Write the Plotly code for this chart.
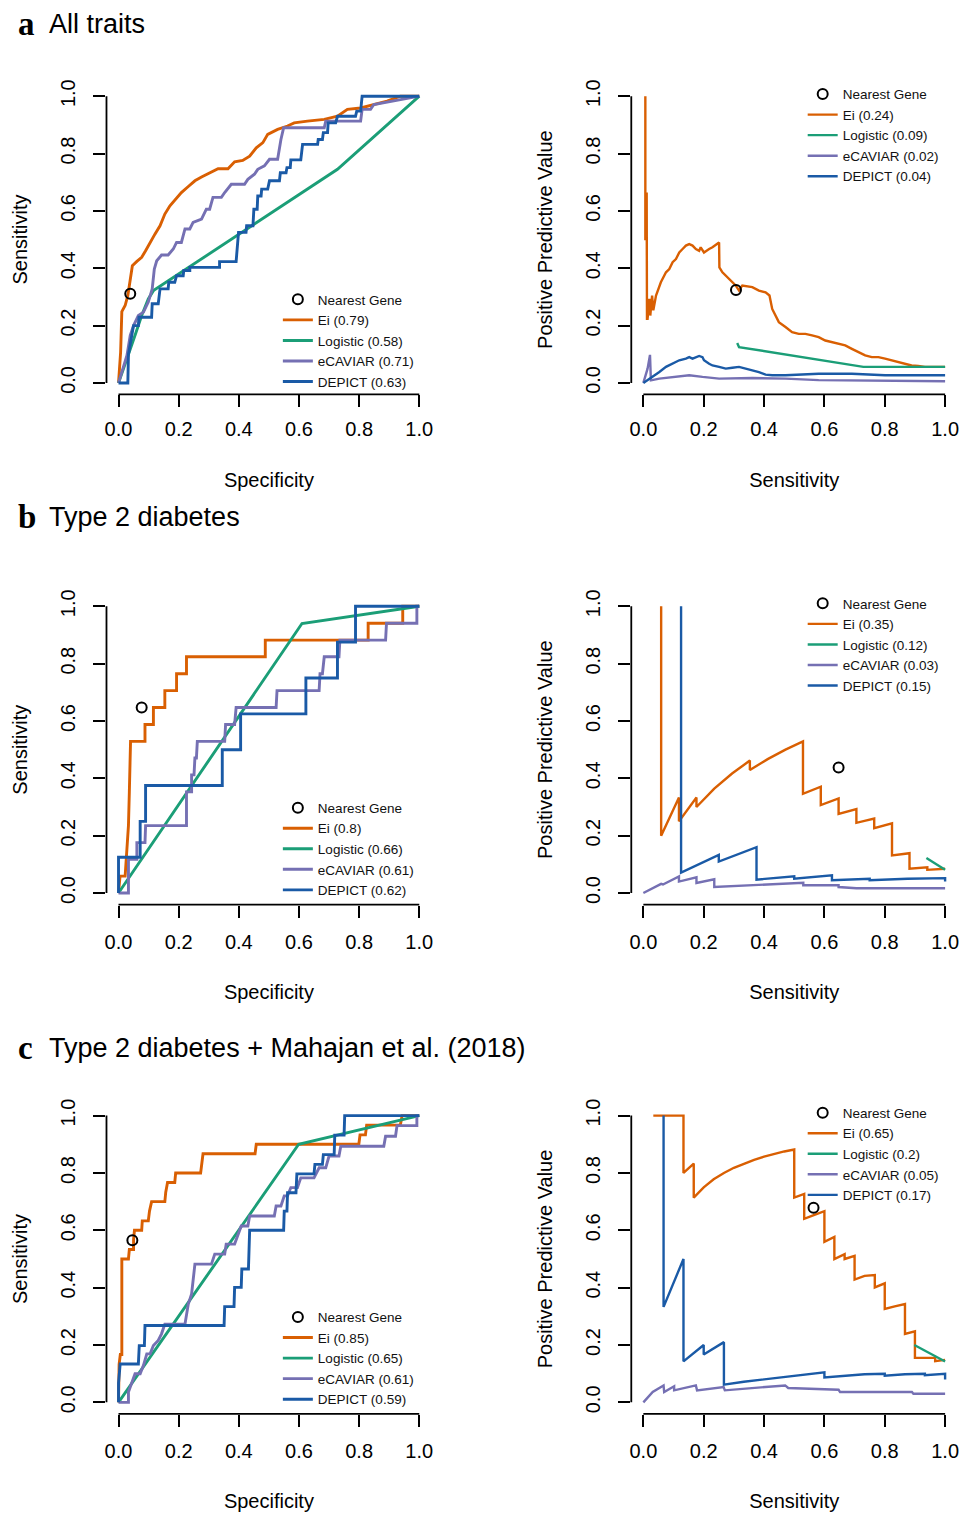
import plotly.graph_objects as go

W, H = 973, 1513

# ---------------- tick labels ----------------
tick_vals = [0.0, 0.2, 0.4, 0.6, 0.8, 1.0]
tick_text = ["0.0", "0.2", "0.4", "0.6", "0.8", "1.0"]

methods = ["Ei", "Logistic", "eCAVIAR", "DEPICT"]
colors = ["#D95F02", "#1B9E77", "#7570B3", "#1A5AA6"]

# ---------------- panel a : All traits, ROC ----------------
a_roc_ei_x = [0, 0.007, 0.011, 0.022, 0.031, 0.039, 0.046, 0.061, 0.077, 0.090, 0.105, 0.121, 0.138, 0.154, 0.171,
              0.187, 0.209, 0.232, 0.254, 0.276, 0.303, 0.331, 0.364, 0.386, 0.413, 0.436, 0.458, 0.480, 0.496,
              0.529, 0.562, 0.584, 0.628, 0.684, 0.728, 0.761, 0.805, 0.849, 0.893, 0.937, 1.0]
a_roc_ei_y = [0, 0.108, 0.249, 0.27, 0.305, 0.363, 0.409, 0.424, 0.438, 0.461, 0.490, 0.519, 0.548, 0.589, 0.618,
              0.638, 0.664, 0.685, 0.705, 0.718, 0.731, 0.747, 0.747, 0.771, 0.776, 0.791, 0.820, 0.838, 0.867,
              0.884, 0.896, 0.907, 0.913, 0.919, 0.930, 0.954, 0.959, 0.971, 0.983, 1.0, 1.0]
a_roc_log_x = [0, 0.033, 0.055, 0.077, 0.099, 0.116, 0.728, 1.0]
a_roc_log_y = [0, 0.096, 0.166, 0.235, 0.293, 0.322, 0.745, 1.0]
a_roc_ecav_x = [0, 0.028, 0.039, 0.050, 0.066, 0.083, 0.099, 0.112, 0.119, 0.127, 0.143, 0.165, 0.182, 0.193, 0.209,
                0.221, 0.237, 0.248, 0.276, 0.292, 0.303, 0.314, 0.342, 0.353, 0.375, 0.419, 0.430, 0.452, 0.463,
                0.485, 0.502, 0.529, 0.540, 0.549, 0.684, 0.689, 0.805, 0.810, 0.838, 0.849, 1.0]
a_roc_ecav_y = [0, 0.096, 0.166, 0.200, 0.235, 0.247, 0.282, 0.328, 0.397, 0.426, 0.446, 0.446, 0.467, 0.490, 0.490,
                0.537, 0.537, 0.560, 0.571, 0.606, 0.606, 0.647, 0.647, 0.664, 0.693, 0.693, 0.710, 0.728, 0.745,
                0.757, 0.780, 0.780, 0.849, 0.890, 0.890, 0.913, 0.913, 0.954, 0.954, 0.971, 1.0]
a_roc_dep_x = [0, 0.031, 0.033, 0.050, 0.066, 0.068, 0.110, 0.112, 0.132, 0.138, 0.165, 0.167, 0.187, 0.193, 0.215,
               0.217, 0.237, 0.237, 0.336, 0.336, 0.391, 0.399, 0.424, 0.426, 0.447, 0.450, 0.461, 0.463, 0.474,
               0.476, 0.496, 0.502, 0.535, 0.538, 0.557, 0.560, 0.571, 0.573, 0.606, 0.612, 0.662, 0.664, 0.678,
               0.681, 0.695, 0.697, 0.722, 0.728, 0.788, 0.792, 0.805, 0.810, 1.0]
a_roc_dep_y = [0, 0, 0.100, 0.200, 0.200, 0.229, 0.229, 0.276, 0.276, 0.328, 0.328, 0.351, 0.351, 0.374, 0.374,
               0.392, 0.392, 0.403, 0.403, 0.423, 0.423, 0.525, 0.525, 0.548, 0.548, 0.606, 0.606, 0.652, 0.652,
               0.676, 0.676, 0.705, 0.705, 0.733, 0.733, 0.751, 0.751, 0.778, 0.778, 0.832, 0.832, 0.849, 0.849,
               0.873, 0.873, 0.907, 0.907, 0.930, 0.930, 0.948, 0.948, 1.0, 1.0]
a_roc_ng = ([0.039], [0.311])
a_roc_labels = ["Ei (0.79)", "Logistic (0.58)", "eCAVIAR (0.71)", "DEPICT (0.63)"]

# ---------------- panel a : All traits, PPV ----------------
a_pr_ei_x = [0.0066, 0.0066, 0.011, 0.011, 0.012, 0.014, 0.020, 0.023, 0.029, 0.033, 0.042, 0.058, 0.075, 0.086,
             0.097, 0.108, 0.119, 0.130, 0.141, 0.152, 0.163, 0.174, 0.185, 0.190, 0.201, 0.218, 0.229, 0.251,
             0.252, 0.262, 0.273, 0.284, 0.295, 0.306, 0.317, 0.328, 0.361, 0.383, 0.405, 0.418, 0.427, 0.438,
             0.449, 0.471, 0.493, 0.515, 0.537, 0.559, 0.581, 0.603, 0.625, 0.647, 0.669, 0.691, 0.713, 0.735,
             0.757, 0.779, 0.801, 0.823, 0.845, 0.867, 0.889, 0.911, 0.933, 0.955, 1.0]
a_pr_ei_y = [1.0, 0.502, 0.502, 0.664, 0.224, 0.224, 0.293, 0.235, 0.305, 0.253, 0.305, 0.351, 0.386, 0.397,
             0.421, 0.432, 0.455, 0.467, 0.479, 0.484, 0.479, 0.467, 0.461, 0.473, 0.455, 0.467, 0.473, 0.490,
             0.403, 0.386, 0.374, 0.363, 0.351, 0.340, 0.322, 0.340, 0.334, 0.322, 0.316, 0.305, 0.258, 0.235,
             0.212, 0.195, 0.177, 0.171, 0.171, 0.166, 0.160, 0.148, 0.143, 0.137, 0.131, 0.119, 0.108, 0.096,
             0.090, 0.090, 0.085, 0.079, 0.073, 0.067, 0.061, 0.059, 0.056, 0.056, 0.056]
a_pr_log_x = [0.311, 0.317, 0.729, 1.0]
a_pr_log_y = [0.139, 0.125, 0.056, 0.056]
a_pr_ecav_x = [0, 0.014, 0.022, 0.025, 0.053, 0.097, 0.152, 0.196, 0.251, 0.361, 0.471, 0.581, 0.691, 1.0]
a_pr_ecav_y = [0, 0.050, 0.098, 0.009, 0.015, 0.021, 0.027, 0.021, 0.015, 0.017, 0.015, 0.010, 0.009, 0.006]
a_pr_dep_x = [0, 0.031, 0.053, 0.075, 0.097, 0.119, 0.141, 0.152, 0.163, 0.185, 0.196, 0.201, 0.218, 0.229, 0.251,
              0.273, 0.295, 0.317, 0.339, 0.361, 0.383, 0.405, 0.427, 0.471, 0.581, 0.691, 0.801, 1.0]
a_pr_dep_y = [0, 0.021, 0.038, 0.056, 0.067, 0.079, 0.085, 0.090, 0.085, 0.094, 0.090, 0.079, 0.067, 0.061, 0.056,
              0.050, 0.053, 0.056, 0.050, 0.044, 0.038, 0.029, 0.027, 0.027, 0.032, 0.032, 0.027, 0.027]
a_pr_ng = ([0.307], [0.324])
a_pr_labels = ["Ei (0.24)", "Logistic (0.09)", "eCAVIAR (0.02)", "DEPICT (0.04)"]

# ---------------- panel b : Type 2 diabetes, ROC ----------------
b_roc_ei_x = [0, 0.005, 0.022, 0.025, 0.030, 0.033, 0.036, 0.040, 0.088, 0.088, 0.116, 0.116, 0.154, 0.154, 0.193,
              0.193, 0.226, 0.226, 0.488, 0.488, 0.830, 0.830, 0.945, 0.945, 1.0]
b_roc_ei_y = [0, 0.059, 0.059, 0.118, 0.176, 0.235, 0.353, 0.529, 0.529, 0.588, 0.588, 0.647, 0.647, 0.706, 0.706,
              0.765, 0.765, 0.824, 0.824, 0.882, 0.882, 0.941, 0.941, 1.0, 1.0]
b_roc_log_x = [0, 0.61, 1.0]
b_roc_log_y = [0, 0.94, 1.0]
b_roc_ecav_x = [0, 0.033, 0.033, 0.061, 0.061, 0.088, 0.090, 0.226, 0.226, 0.243, 0.243, 0.251, 0.254, 0.259, 0.262,
                0.353, 0.356, 0.386, 0.391, 0.524, 0.527, 0.667, 0.670, 0.678, 0.684, 0.733, 0.736, 0.888, 0.891,
                0.992, 0.992, 1.0]
b_roc_ecav_y = [0, 0, 0.118, 0.118, 0.176, 0.176, 0.235, 0.235, 0.353, 0.353, 0.412, 0.412, 0.471, 0.471, 0.529,
                0.529, 0.588, 0.588, 0.647, 0.647, 0.706, 0.706, 0.765, 0.765, 0.824, 0.824, 0.882, 0.882, 0.941,
                0.941, 1.0, 1.0]
b_roc_dep_x = [0, 0, 0.072, 0.072, 0.090, 0.090, 0.345, 0.345, 0.406, 0.406, 0.623, 0.623, 0.728, 0.728, 0.788,
               0.788, 1.0]
b_roc_dep_y = [0, 0.125, 0.125, 0.25, 0.25, 0.375, 0.375, 0.5, 0.5, 0.625, 0.625, 0.75, 0.75, 0.875, 0.875, 1.0, 1.0]
b_roc_ng = ([0.077], [0.647])
b_roc_labels = ["Ei (0.8)", "Logistic (0.66)", "eCAVIAR (0.61)", "DEPICT (0.62)"]

# ---------------- panel b : Type 2 diabetes, PPV ----------------
b_pr_ei_x = [0.059, 0.059, 0.118, 0.118, 0.176, 0.176, 0.235, 0.294, 0.353, 0.353, 0.412, 0.471, 0.529, 0.529,
             0.588, 0.588, 0.647, 0.647, 0.706, 0.706, 0.765, 0.765, 0.824, 0.824, 0.882, 0.882, 0.941, 0.941, 1.0]
b_pr_ei_y = [1.0, 0.2, 0.333, 0.25, 0.333, 0.3, 0.364, 0.417, 0.462, 0.429, 0.467, 0.5, 0.529, 0.346,
             0.371, 0.307, 0.33, 0.276, 0.293, 0.245, 0.26, 0.226, 0.243, 0.131, 0.139, 0.085, 0.09, 0.081, 0.085]
b_pr_log_x = [0.938, 1.0]
b_pr_log_y = [0.122, 0.081]
b_pr_ecav_x = [0, 0.059, 0.065, 0.118, 0.118, 0.176, 0.176, 0.235, 0.235, 0.36, 0.53, 0.53, 0.647, 0.647, 0.706, 1.0]
b_pr_ecav_y = [0, 0.032, 0.030, 0.058, 0.040, 0.055, 0.035, 0.048, 0.021, 0.027, 0.036, 0.027, 0.027, 0.021,
               0.017, 0.017]
b_pr_dep_x = [0.125, 0.125, 0.25, 0.25, 0.375, 0.375, 0.5, 0.5, 0.625, 0.625, 0.75, 0.75, 0.875, 1.0, 1.0]
b_pr_dep_y = [1.0, 0.071, 0.133, 0.11, 0.16, 0.047, 0.058, 0.05, 0.062, 0.045, 0.05, 0.045, 0.05, 0.052, 0.04]
b_pr_ng = ([0.647], [0.438])
b_pr_labels = ["Ei (0.35)", "Logistic (0.12)", "eCAVIAR (0.03)", "DEPICT (0.15)"]

# ---------------- panel c : T2D + Mahajan et al. (2018), ROC ----------------
c_roc_ei_x = [0, 0, 0.002, 0.006, 0.011, 0.011, 0.033, 0.036, 0.050, 0.050, 0.053, 0.077, 0.079, 0.099, 0.103,
              0.110, 0.154, 0.157, 0.163, 0.187, 0.190, 0.273, 0.276, 0.281, 0.454, 0.458, 0.799, 0.803, 0.821,
              0.825, 0.937, 0.943, 1.0]
c_roc_ei_y = [0, 0.067, 0.133, 0.167, 0.167, 0.5, 0.5, 0.533, 0.533, 0.567, 0.6, 0.6, 0.633, 0.633, 0.667,
              0.7, 0.7, 0.733, 0.767, 0.767, 0.8, 0.8, 0.833, 0.867, 0.867, 0.9, 0.9, 0.933, 0.933,
              0.967, 0.967, 1.0, 1.0]
c_roc_log_x = [0, 0.599, 1.0]
c_roc_log_y = [0, 0.9, 1.0]
c_roc_ecav_x = [0, 0.033, 0.033, 0.044, 0.055, 0.072, 0.083, 0.094, 0.105, 0.116, 0.132, 0.143, 0.154, 0.221, 0.226,
                0.232, 0.243, 0.254, 0.309, 0.320, 0.353, 0.358, 0.386, 0.397, 0.408, 0.430, 0.436, 0.518, 0.524,
                0.540, 0.551, 0.562, 0.573, 0.595, 0.606, 0.650, 0.667, 0.689, 0.700, 0.733, 0.739, 0.882, 0.888,
                0.921, 0.926, 0.992, 0.992, 1.0]
c_roc_ecav_y = [0, 0, 0.036, 0.065, 0.1, 0.1, 0.129, 0.169, 0.169, 0.198, 0.216, 0.239, 0.273, 0.273, 0.308,
                0.343, 0.378, 0.482, 0.482, 0.517, 0.517, 0.552, 0.552, 0.586, 0.615, 0.615, 0.650, 0.650, 0.685,
                0.685, 0.720, 0.720, 0.749, 0.749, 0.783, 0.783, 0.818, 0.818, 0.859, 0.859, 0.893, 0.893, 0.928,
                0.928, 0.965, 0.965, 1.0, 1.0]
c_roc_dep_x = [0, 0, 0.0055, 0.066, 0.069, 0.086, 0.088, 0.351, 0.353, 0.384, 0.386, 0.408, 0.410, 0.432, 0.436,
               0.549, 0.551, 0.560, 0.562, 0.590, 0.593, 0.650, 0.653, 0.678, 0.681, 0.717, 0.719, 0.750, 0.752, 1.0]
c_roc_dep_y = [0, 0.067, 0.134, 0.134, 0.198, 0.198, 0.268, 0.268, 0.334, 0.334, 0.401, 0.401, 0.465, 0.465, 0.600,
               0.600, 0.667, 0.667, 0.731, 0.731, 0.797, 0.797, 0.830, 0.830, 0.864, 0.864, 0.932, 0.932, 1.0, 1.0]
c_roc_ng = ([0.046], [0.565])
c_roc_labels = ["Ei (0.85)", "Logistic (0.65)", "eCAVIAR (0.61)", "DEPICT (0.59)"]

# ---------------- panel c : T2D + Mahajan et al. (2018), PPV ----------------
c_pr_ei_x = [0.033, 0.133, 0.133, 0.167, 0.167, 0.2, 0.233, 0.267, 0.3, 0.333, 0.367, 0.4, 0.433, 0.467, 0.5, 0.5,
             0.533, 0.533, 0.567, 0.6, 0.6, 0.633, 0.633, 0.667, 0.667, 0.7, 0.7, 0.733, 0.767, 0.767, 0.8, 0.8,
             0.833, 0.867, 0.867, 0.9, 0.9, 0.967, 0.967, 1.0]
c_pr_ei_y = [1.0, 1.0, 0.8, 0.833, 0.714, 0.75, 0.778, 0.8, 0.818, 0.833, 0.846, 0.857, 0.867, 0.875, 0.882, 0.714,
             0.727, 0.64, 0.654, 0.667, 0.56, 0.577, 0.5, 0.517, 0.5, 0.511, 0.428, 0.441, 0.444, 0.401, 0.415, 0.326,
             0.335, 0.343, 0.239, 0.248, 0.155, 0.155, 0.144, 0.148]
c_pr_log_x = [0.898, 1.0]
c_pr_log_y = [0.2, 0.1425]
c_pr_ecav_x = [0, 0.031, 0.067, 0.069, 0.102, 0.102, 0.174, 0.178, 0.266, 0.27, 0.47, 0.48, 0.647, 0.652, 0.89,
               0.895, 1.0]
c_pr_ecav_y = [0, 0.036, 0.059, 0.036, 0.056, 0.042, 0.059, 0.042, 0.053, 0.042, 0.059, 0.05, 0.044, 0.036, 0.036,
               0.030, 0.030]
c_pr_dep_x = [0.067, 0.067, 0.133, 0.133, 0.2, 0.2, 0.267, 0.267, 0.333, 0.4, 0.467, 0.533, 0.6, 0.6, 0.667, 0.733,
              0.8, 0.8, 0.867, 0.933, 0.933, 1.0, 1.0]
c_pr_dep_y = [1.0, 0.333, 0.5, 0.143, 0.2, 0.167, 0.21, 0.062, 0.072, 0.08, 0.088, 0.095, 0.105, 0.087, 0.093, 0.098,
              0.1, 0.093, 0.098, 0.1, 0.095, 0.1, 0.08]
c_pr_ng = ([0.564], [0.679])
c_pr_labels = ["Ei (0.65)", "Logistic (0.2)", "eCAVIAR (0.05)", "DEPICT (0.17)"]

headings = [("a", "All traits"), ("b", "Type 2 diabetes"), ("c", "Type 2 diabetes + Mahajan et al. (2018)")]

# ---------------- assemble ----------------
panels = [
    dict(series=[(a_roc_ei_x, a_roc_ei_y), (a_roc_log_x, a_roc_log_y), (a_roc_ecav_x, a_roc_ecav_y),
                 (a_roc_dep_x, a_roc_dep_y)], ng=a_roc_ng, labels=a_roc_labels, kind="roc", row=0),
    dict(series=[(a_pr_ei_x, a_pr_ei_y), (a_pr_log_x, a_pr_log_y), (a_pr_ecav_x, a_pr_ecav_y),
                 (a_pr_dep_x, a_pr_dep_y)], ng=a_pr_ng, labels=a_pr_labels, kind="pr", row=0),
    dict(series=[(b_roc_ei_x, b_roc_ei_y), (b_roc_log_x, b_roc_log_y), (b_roc_ecav_x, b_roc_ecav_y),
                 (b_roc_dep_x, b_roc_dep_y)], ng=b_roc_ng, labels=b_roc_labels, kind="roc", row=1),
    dict(series=[(b_pr_ei_x, b_pr_ei_y), (b_pr_log_x, b_pr_log_y), (b_pr_ecav_x, b_pr_ecav_y),
                 (b_pr_dep_x, b_pr_dep_y)], ng=b_pr_ng, labels=b_pr_labels, kind="pr", row=1),
    dict(series=[(c_roc_ei_x, c_roc_ei_y), (c_roc_log_x, c_roc_log_y), (c_roc_ecav_x, c_roc_ecav_y),
                 (c_roc_dep_x, c_roc_dep_y)], ng=c_roc_ng, labels=c_roc_labels, kind="roc", row=2),
    dict(series=[(c_pr_ei_x, c_pr_ei_y), (c_pr_log_x, c_pr_log_y), (c_pr_ecav_x, c_pr_ecav_y),
                 (c_pr_dep_x, c_pr_dep_y)], ng=c_pr_ng, labels=c_pr_labels, kind="pr", row=2),
]

FONT = "Liberation Sans, Arial, Helvetica, sans-serif"
SERIF = "Liberation Serif, Times New Roman, serif"

# pixel geometry (value 0 and value 1 positions)
col_px = {"roc": (117, 419), "pr": (644, 947)}
row_px = [(91.5, 379.2), (603.3, 891), (1114.3, 1402)]
row_label_gap = [5, 7, 7]
row_legend_top = {"roc": [280, 790, 1301], "pr": [74, 585, 1096]}
PAD = 0.04


def xdom(p0, p1):
    s = p1 - p0
    return [(p0 - PAD * s) / W, (p1 + PAD * s) / W]


def ydom(t1, b0):
    s = b0 - t1
    return [1 - (b0 + PAD * s) / H, 1 - (t1 - PAD * s) / H]


fig = go.Figure()
layout = dict(width=W, height=H, margin=dict(l=0, r=0, t=0, b=0), autosize=False,
              paper_bgcolor="white", plot_bgcolor="white", font=dict(family=FONT, color="black"),
              shapes=[], annotations=[])

for i, p in enumerate(panels):
    s = i + 1
    sfx = "" if s == 1 else str(s)
    xa, ya = "x" + sfx, "y" + sfx
    leg = "legend" + sfx
    lw = 2.9 if p["kind"] == "roc" else 2.4
    for k, ((xs, ys), name, col) in enumerate(zip(p["series"], p["labels"], colors)):
        fig.add_trace(go.Scatter(x=xs, y=ys, mode="lines", name=name, xaxis=xa, yaxis=ya, legend=leg,
                                 legendrank=k + 2, line=dict(color=col, width=lw), hoverinfo="skip"))
    fig.add_trace(go.Scatter(x=p["ng"][0], y=p["ng"][1], mode="markers", name="Nearest Gene", xaxis=xa, yaxis=ya,
                             legend=leg, legendrank=1,
                             marker=dict(symbol="circle-open", size=10, color="black", line=dict(width=2)),
                             hoverinfo="skip"))

    cx0, cx1 = col_px[p["kind"]]
    ry1, ry0 = row_px[p["row"]]
    xtitle = "Specificity" if p["kind"] == "roc" else "Sensitivity"
    ytitle = "Sensitivity" if p["kind"] == "roc" else "Positive Predictive Value"
    common = dict(range=[-PAD, 1 + PAD], showgrid=False, zeroline=False, showline=False, ticks="outside",
                  ticklen=12, tickwidth=1.8, tickcolor="black", tickmode="array", tickvals=tick_vals,
                  ticktext=tick_text, tickfont=dict(size=20, family=FONT, color="black"), fixedrange=True)
    layout["xaxis" + sfx] = dict(common, domain=xdom(cx0, cx1), anchor=ya,
                                 ticklabelstandoff=row_label_gap[p["row"]],
                                 title=dict(text=xtitle, font=dict(size=20, family=FONT), standoff=33))
    layout["yaxis" + sfx] = dict(common, domain=ydom(ry1, ry0), anchor=xa, tickangle=-90, ticklabelstandoff=10,
                                 title=dict(text=ytitle, font=dict(size=20, family=FONT), standoff=24))
    # R-style detached axis lines spanning only the tick range
    layout["shapes"].append(dict(type="line", xref=xa, yref=ya + " domain", x0=0, x1=1, y0=0, y1=0,
                                 line=dict(color="black", width=1.8)))
    layout["shapes"].append(dict(type="line", xref=xa + " domain", yref=ya, x0=0, x1=0, y0=0, y1=1,
                                 line=dict(color="black", width=1.8)))
    # legend (middle entry aligned with the reference)
    lx = 277 if p["kind"] == "roc" else 804
    ly = row_legend_top[p["kind"]][p["row"]]
    layout[leg] = dict(x=lx / W, y=1 - ly / H, xanchor="left", yanchor="top", bgcolor="rgba(0,0,0,0)",
                       borderwidth=0, font=dict(size=13.5, family=FONT, color="#111"), itemwidth=30,
                       tracegroupgap=0, traceorder="normal")

# panel headings
for (letter, text), yc in zip(headings, [19, 514, 1046]):
    layout["annotations"].append(dict(text="<b>" + letter + "</b>", x=14 / W, y=1 - yc / H, xref="paper",
                                      yref="paper", xanchor="left", yanchor="middle", showarrow=False,
                                      font=dict(size=33, family=SERIF, color="black")))
    layout["annotations"].append(dict(text=text, x=45 / W, y=1 - yc / H, xref="paper", yref="paper",
                                      xanchor="left", yanchor="middle", showarrow=False,
                                      font=dict(size=27, family=FONT, color="black")))

fig.update_layout(**layout)
fig.write_html("out.html", include_plotlyjs=True, config={"displayModeBar": False},
               post_script="document.body.style.margin='0';document.body.style.overflow='hidden';")
